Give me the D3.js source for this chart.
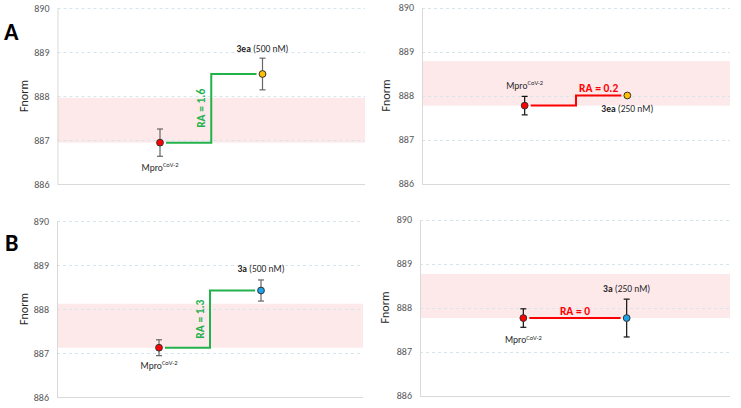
<!DOCTYPE html>
<html>
<head>
<meta charset="utf-8">
<script src="https://cdn.jsdelivr.net/npm/d3@7"></script>
<style>
  html, body { margin: 0; padding: 0; background: #ffffff; }
  svg { display: block; }
  text { font-family: Carlito, Calibri, "Liberation Sans", Arial, sans-serif; }
</style>
</head>
<body>
<svg id="chart" width="741" height="408"></svg>
<script>
// ---------- data ----------
const panelLetters   = ["A", "", "B", ""];
const mproValues     = [886.94, 887.77, 887.12, 887.76];
const mproErrors     = [0.31, 0.21, 0.18, 0.21];
const ligandNames    = ["3ea", "3ea", "3a", "3a"];
const ligandConcs    = ["(500 nM)", "(250 nM)", "(500 nM)", "(250 nM)"];
const ligandValues   = [888.50, 888.00, 888.42, 887.76];
const ligandErrors   = [0.36, 0.00, 0.24, 0.43];
const ligandColors   = ["#ffc000", "#ffc000", "#1aa3e8", "#1aa3e8"];
const bandLows       = [886.94, 887.77, 887.12, 887.76];
const bandHighs      = [887.96, 888.78, 888.12, 888.76];
const raLabels       = ["RA = 1.6", "RA = 0.2", "RA = 1.3", "RA = 0"];
const raColors       = ["#22b24c", "#ff0000", "#22b24c", "#ff0000"];
const yTicks         = [886, 887, 888, 889, 890];
const xPositions     = [1, 2]; // Mpro, ligand
const xDomain        = [0, 3];
const mproLabel      = "Mpro";
const mproSup        = "CoV-2";
const yTitle         = "Fnorm";

// ---------- layout (pixels) ----------
const layouts = [
  { x0: 57.5, x1: 365, y0: 8,     y1: 184,   letterX: 4, letterY: 39.5, rot: true,  ligDy: -22, mproDy: 28, errCol: "#666666", gap: 33.5 },
  { x0: 422,  x1: 730, y0: 7.5,   y1: 183.5, letterX: 0, letterY: 0,    rot: false, ligDy: 16.5, mproDy: -17, errCol: "#111111", gap: 36 },
  { x0: 57,   x1: 363, y0: 221,   y1: 397,   letterX: 5, letterY: 250.5, rot: true,  ligDy: -19, mproDy: 21, errCol: "#666666", gap: 33.5 },
  { x0: 420,  x1: 730, y0: 219.5, y1: 395.5, letterX: 0, letterY: 0,    rot: false, ligDy: -26, mproDy: 25, errCol: "#111111", gap: 35 }
];

const svg = d3.select("#chart");

layouts.forEach((L, i) => {
  const g = svg.append("g");
  const x = d3.scaleLinear().domain(xDomain).range([L.x0, L.x1]);
  const y = d3.scaleLinear().domain([yTicks[0], yTicks[yTicks.length - 1]]).range([L.y1, L.y0]);

  // band
  g.append("rect")
    .attr("x", L.x0).attr("width", L.x1 - L.x0)
    .attr("y", y(bandHighs[i])).attr("height", y(bandLows[i]) - y(bandHighs[i]))
    .attr("fill", "#fde8ea");

  // gridlines (dashed)
  g.selectAll("line.grid").data(yTicks.slice(1)).enter().append("line")
    .attr("x1", L.x0).attr("x2", L.x1)
    .attr("y1", d => Math.round(y(d)) + 0.5).attr("y2", d => Math.round(y(d)) + 0.5)
    .attr("stroke", "#d6e4ec").attr("stroke-width", 1).attr("stroke-dasharray", "3,3");

  // axis
  const axis = d3.axisLeft(y).tickValues(yTicks).tickSize(0).tickPadding(8).tickFormat(d3.format("d"));
  const ax = g.append("g").attr("transform", `translate(${L.x0},0)`).call(axis);
  ax.select(".domain").attr("stroke", "#d9d9d9");
  ax.selectAll("text").attr("fill", "#595959").attr("font-size", "10px")
    .attr("font-family", "Carlito, Calibri, 'Liberation Sans', Arial, sans-serif");

  // bottom axis line
  g.append("line")
    .attr("x1", L.x0).attr("x2", L.x1)
    .attr("y1", Math.round(y(yTicks[0])) + 0.5).attr("y2", Math.round(y(yTicks[0])) + 0.5)
    .attr("stroke", "#d9d9d9").attr("stroke-width", 1.2);

  // y title
  const ty = (L.y0 + L.y1) / 2;
  g.append("text")
    .attr("transform", `translate(${L.x0 - L.gap},${ty}) rotate(-90)`)
    .attr("text-anchor", "middle").attr("dy", "0.35em")
    .attr("font-size", "12px").attr("fill", "#262626")
    .text(yTitle);

  // panel letter
  if (panelLetters[i]) {
    g.append("text").attr("x", L.letterX).attr("y", L.letterY)
      .attr("font-size", "24px").attr("font-weight", "bold").attr("fill", "#000")
      .attr("font-family", "'Liberation Sans', Arial, sans-serif")
      .text(panelLetters[i]);
  }

  const xm = x(xPositions[0]), xl = x(xPositions[1]);
  const ym = y(mproValues[i]), yl = y(ligandValues[i]);
  const xmid = x((xPositions[0] + xPositions[1]) / 2);

  // step line
  const stepPts = [[xm + 6, ym], [xmid, ym], [xmid, yl], [xl - 6, yl]];
  g.append("path")
    .attr("d", d3.line()(stepPts))
    .attr("fill", "none").attr("stroke", raColors[i]).attr("stroke-width", 2);

  // RA label
  if (L.rot) {
    g.append("text")
      .attr("transform", `translate(${xmid - 10},${(ym + yl) / 2}) rotate(-90)`)
      .attr("text-anchor", "middle").attr("dy", "0.35em")
      .attr("font-size", "11.5px").attr("font-weight", "bold").attr("fill", raColors[i])
      .text(raLabels[i]);
  } else {
    const cx = (ligandValues[i] === mproValues[i]) ? (xm + xl) / 2 : (xmid + xl - 6) / 2;
    g.append("text")
      .attr("x", cx).attr("y", yl - 3.5)
      .attr("text-anchor", "middle")
      .attr("font-size", "11.5px").attr("font-weight", "bold").attr("fill", raColors[i])
      .text(raLabels[i]);
  }

  // error bars + markers
  const pts = [
    { xv: xm, v: mproValues[i], e: mproErrors[i], c: "#ff0000" },
    { xv: xl, v: ligandValues[i], e: ligandErrors[i], c: ligandColors[i] }
  ];
  pts.forEach(p => {
    if (p.e > 0) {
      const yt = y(p.v + p.e), yb = y(p.v - p.e);
      g.append("line").attr("x1", p.xv).attr("x2", p.xv).attr("y1", yt).attr("y2", yb)
        .attr("stroke", L.errCol).attr("stroke-width", 1.2);
      [yt, yb].forEach(yy => g.append("line")
        .attr("x1", p.xv - 3).attr("x2", p.xv + 3).attr("y1", yy).attr("y2", yy)
        .attr("stroke", L.errCol).attr("stroke-width", 1.2));
    }
    g.append("circle").attr("cx", p.xv).attr("cy", y(p.v)).attr("r", 3.4)
      .attr("fill", p.c).attr("stroke", "#333").attr("stroke-width", 1);
  });

  // ligand label
  const lt = g.append("text").attr("x", xl).attr("y", yl + L.ligDy)
    .attr("text-anchor", "middle").attr("font-size", "9.5px").attr("fill", "#262626");
  lt.append("tspan").attr("font-weight", "bold").text(ligandNames[i]);
  lt.append("tspan").text(" " + ligandConcs[i]);

  // Mpro label
  const mt = g.append("text").attr("x", xm).attr("y", ym + L.mproDy)
    .attr("text-anchor", "middle").attr("font-size", "9.5px").attr("fill", "#262626");
  mt.append("tspan").text(mproLabel);
  mt.append("tspan").attr("font-size", "6.5px").attr("dy", "-3.5").text(mproSup);
});
</script>
</body>
</html>
